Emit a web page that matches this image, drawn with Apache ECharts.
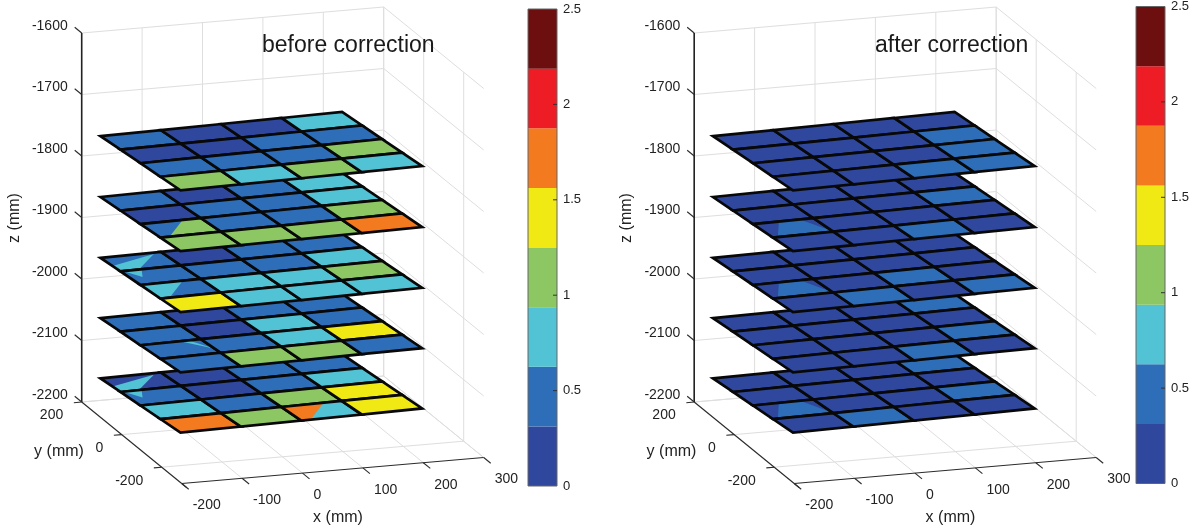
<!DOCTYPE html>
<html><head><meta charset="utf-8">
<style>html,body{margin:0;padding:0;background:#fff}#c{width:1203px;height:532px}</style>
<script src="https://cdn.jsdelivr.net/npm/echarts@6/dist/echarts.min.js"></script>
</head><body><div id="c"></div>
<script>
// ---------- data ----------
const xTicks = [-200,-100,0,100,200,300];
const yTicks = [200,0,-200];
const zTicks = [-1600,-1700,-1800,-1900,-2000,-2100,-2200];
const cellEdgesX = [-202,-102,-2,98,198];
const cellEdgesY = [100,0,-100,-200,-300];
const layerZ = [-2135,-2037,-1939,-1840,-1741];      // bottom layer first
const colorbarTicks = [0,0.5,1,1.5,2,2.5];
const bandLower = [0,0.3125,0.625,0.9375,1.25,1.5625,1.875,2.1875];
const bandColors = ['#2f479d','#2e6db7','#52c2d5','#8cc763','#f0e914','#f47a1f','#ee1c25','#6e0f0f'];
// rows run back to front, columns left to right
const before1 = [[.15,.15,.45,.45],[.45,.15,.45,.8],[.8,.45,1.1,1.4],[1.7,1.1,.8,1.4]];
const before2 = [[.4,.15,.45,.45],[.45,.15,.8,.45],[.45,.45,.8,1.4],[.45,1.1,1.1,.45]];
const before3 = [[.45,.15,.45,.45],[.45,.45,.45,.8],[.45,.8,.8,1.1],[1.4,.8,.8,.8]];
const before4 = [[.45,.15,.45,.8],[.15,.45,.45,.8],[1.1,.45,.45,1.1],[1.1,1.1,1.1,1.7]];
const before5 = [[.45,.15,.15,.8],[.15,.15,.45,.45],[.45,.45,.45,1.1],[1.1,.8,1.1,.8]];
const after1 = [[.15,.15,.15,.45],[.15,.15,.15,.15],[.15,.15,.15,.45],[.15,.45,.15,.15]];
const after2 = [[.15,.15,.15,.45],[.15,.15,.15,.15],[.15,.15,.15,.45],[.15,.15,.45,.15]];
const after3 = [[.15,.15,.15,.15],[.15,.15,.15,.15],[.15,.15,.45,.15],[.15,.45,.15,.45]];
const after4 = [[.15,.15,.15,.15],[.15,.15,.15,.45],[.15,.15,.15,.15],[.15,.15,.45,.15]];
const after5 = [[.15,.15,.15,.15],[.15,.15,.15,.45],[.15,.15,.15,.45],[.15,.15,.45,.45]];
// [layer, row, col, value, shape name]
const beforePatches = [[2,0,0,.8,'lowSweep'],[3,2,0,.45,'leftWedge'],[2,2,0,.8,'leftWedge'],[2,1,0,.8,'tinyLeft'],
  [1,2,0,.8,'streak'],[0,0,0,.8,'lowSweep'],[0,1,0,.8,'tinyLeft'],[0,3,2,1.7,'leftWedge']];
const afterPatches = [[3,2,0,.45,'upperFan'],[2,2,0,.45,'upperFan'],[0,2,0,.45,'upperFan']];
const patchShapes = {
  lowSweep:[[0,.6],[.85,.1],[.3,1],[0,1]],
  leftWedge:[[0,0],[.7,0],[.15,1],[0,1]],
  tinyLeft:[[.05,0],[.35,0],[.2,.5]],
  streak:[[.65,0],[.8,0],[1,.7]],
  upperFan:[[.08,1],[.4,.08],[.78,0],[1,1]]
};

// ---------- view projection of the 3-D box ----------
const view = {ox:81.7, oy:402, xx:.604, xy:-.052, yx:.2, yy:.163, zy:.615, tiltX:.0138, tiltY:.0447};
const xMin=-200,xMax=300,yMaxV=200,yMinV=-300,zTop=-1600,zBot=-2200;
function project(X,Y,Z){
  return [view.ox+(X-xMin)*view.xx+(yMaxV-Y)*view.yx,
          view.oy+(X-xMin)*view.xy+(yMaxV-Y)*view.yy-(Z-zBot)*view.zy];
}
function layerPoint(L,X,Y){
  const z=layerZ[L]+view.tiltY*(cellEdgesY[0]-Y)+view.tiltX*(X-cellEdgesX[0]);
  return project(X,Y,z);
}
const greyLine={stroke:'#dedede',lineWidth:1};
const darkLine={stroke:'#2b2b2b',lineWidth:1.1};
function segments(){
  const s=[];
  const g=(a,b)=>s.push([a,b,greyLine]);
  const d=(a,b,lw)=>s.push([a,b,lw?{stroke:'#222',lineWidth:lw}:darkLine]);
  xTicks.forEach(x=>{g([x,yMaxV,zBot],[x,yMinV,zBot]);g([x,yMaxV,zBot],[x,yMaxV,zTop]);});
  yTicks.forEach(y=>{g([xMin,y,zBot],[xMax,y,zBot]);g([xMax,y,zBot],[xMax,y,zTop]);});
  zTicks.forEach(z=>{g([xMin,yMaxV,z],[xMax,yMaxV,z]);g([xMax,yMaxV,z],[xMax,yMinV,z]);});
  d([xMin,yMaxV,zTop],[xMin,yMaxV,zBot],1.6);
  d([xMin,yMaxV,zBot],[xMin,yMinV,zBot]);
  d([xMin,yMinV,zBot],[xMax,yMinV,zBot]);
  zTicks.forEach(z=>d([xMin,yMaxV,z],[xMin,yMaxV+35,z]));
  xTicks.forEach(x=>d([x,yMinV,zBot],[x,yMinV-35,zBot]));
  yTicks.forEach(y=>d([xMin,y,zBot],[xMin-13,y,zBot]));
  d([xMin,yMinV,zBot],[xMin,yMinV-25,zBot]);
  return s;
}
function labels(){
  const t=[], font=14;
  zTicks.forEach(z=>{const p=project(xMin,yMaxV,z);t.push({x:p[0]-14,y:p[1]-7,text:String(z),align:'right',size:font});});
  xTicks.forEach(x=>{const p=project(x,yMinV,zBot);t.push({x:p[0]+11,y:p[1]+22,text:String(x),align:'left',size:font});});
  yTicks.forEach(y=>{const p=project(xMin,y,zBot);t.push({x:p[0]-18.5,y:p[1]+13.5,text:String(y),align:'right',size:font});});
  t.push({x:14.5,y:218,text:'z (mm)',align:'center',size:16,rot:Math.PI/2});
  t.push({x:59,y:452,text:'y (mm)',align:'center',size:16});
  t.push({x:338,y:518,text:'x (mm)',align:'center',size:16});
  return t;
}
function colorOf(v){
  let i=0; bandLower.forEach((b,k)=>{if(v>=b)i=k;}); return bandColors[i];
}
function cellList(layers,patches){
  const out=[];
  layers.forEach((m,L)=>m.forEach((row,r)=>row.forEach((v,c)=>{
    out.push({L,r,c,v,patch:patches.filter(p=>p[0]===L&&p[1]===r&&p[2]===c)});
  })));
  return out;
}
function panelSeries(idx,layers,patches){
  const segs=segments(), texts=labels(), cells=cellList(layers,patches);
  const common={type:'custom',xAxisIndex:idx,yAxisIndex:idx,silent:true,animation:false,clip:false};
  return [
    Object.assign({},common,{name:'box'+idx,z:1,data:segs.map((s,i)=>[i]),renderItem(p,api){
      const s=segs[p.dataIndex],a=api.coord(project(...s[0])),b=api.coord(project(...s[1]));
      return {type:'line',shape:{x1:a[0],y1:a[1],x2:b[0],y2:b[1]},style:Object.assign({fill:null},s[2])};
    }}),
    Object.assign({},common,{name:'cells'+idx,z:2,data:cells.map((s,i)=>[i]),renderItem(p,api){
      const k=cells[p.dataIndex];
      const x0=cellEdgesX[k.c],x1=cellEdgesX[k.c+1],y0=cellEdgesY[k.r],y1=cellEdgesY[k.r+1];
      const at=(u,v)=>api.coord(layerPoint(k.L,x0+(x1-x0)*u,y0+(y1-y0)*v));
      const corners=[at(0,0),at(1,0),at(1,1),at(0,1)];
      const kids=[{type:'polygon',shape:{points:corners},style:{fill:colorOf(k.v)}}];
      k.patch.forEach(q=>{
        kids.push({type:'polygon',shape:{points:patchShapes[q[4]].map(a=>at(a[0],a[1]))},style:{fill:colorOf(q[3])}});
      });
      kids.push({type:'polygon',shape:{points:corners},style:{fill:null,stroke:'#080808',lineWidth:2.7,lineJoin:'miter'}});
      return {type:'group',children:kids};
    }}),
    Object.assign({},common,{name:'labels'+idx,z:3,data:texts.map((s,i)=>[i]),renderItem(p,api){
      const t=texts[p.dataIndex],a=api.coord([t.x,t.y]);
      return {type:'text',x:a[0],y:a[1],rotation:t.rot||0,style:{text:t.text,textAlign:t.align,textVerticalAlign:'middle',
        font:t.size+'px "Liberation Sans",Arial,sans-serif',fill:'#222'}};
    }})
  ];
}
function colorbarSeries(idx){
  const n=bandLower.length;
  return {type:'custom',name:'colorbar'+idx,xAxisIndex:idx,yAxisIndex:idx,silent:true,animation:false,z:2,
    data:bandLower.concat(['frame'],colorbarTicks.slice(1,-1)).map((b,i)=>[i]),renderItem(p,api){
      const i=p.dataIndex;
      if(i===n){
        const a=api.coord([0,0]),b=api.coord([1,2.5]);
        return {type:'rect',shape:{x:a[0],y:b[1],width:b[0]-a[0],height:a[1]-b[1]},style:{fill:null,stroke:'#666',lineWidth:1}};
      }
      if(i>n){
        const a=api.coord([1,colorbarTicks[i-n]]);
        return {type:'line',shape:{x1:a[0]-4,y1:a[1],x2:a[0],y2:a[1]},style:{stroke:'#333',lineWidth:1}};
      }
      const lo=bandLower[i],hi=i+1<n?bandLower[i+1]:2.5;
      const a=api.coord([0,lo]),b=api.coord([1,hi]);
      return {type:'rect',shape:{x:a[0],y:b[1],width:b[0]-a[0],height:a[1]-b[1]},style:{fill:bandColors[i]}};
    }};
}
const hiddenX=w=>({type:'value',show:false,min:0,max:w});
const hiddenY={type:'value',show:false,inverse:true,min:0,max:532};
const barY=(g)=>({type:'value',gridIndex:g,position:'right',min:0,max:2.5,interval:.5,
  axisLine:{show:false},axisTick:{show:false},splitLine:{show:false},
  axisLabel:{margin:6,fontSize:13,color:'#222',padding:[3,0,0,0],fontFamily:'"Liberation Sans",Arial,sans-serif',
    formatter:v=>colorbarTicks.includes(v)?String(v):''}});
const titleStyle={fontSize:23,fontWeight:'normal',color:'#1a1a1a',fontFamily:'"Liberation Sans",Arial,sans-serif'};
const option={
  animation:false,backgroundColor:'#fff',
  title:[
    {text:'before correction',left:262,top:34,padding:0,textStyle:titleStyle},
    {text:'after correction',left:875,top:34,padding:0,textStyle:titleStyle}
  ],
  grid:[
    {left:0,top:0,width:600,height:532},
    {left:612.5,top:0,width:590.5,height:532},
    {left:528,top:9,width:29,height:477},
    {left:1136,top:6.5,width:29,height:477}
  ],
  xAxis:[
    Object.assign({gridIndex:0},hiddenX(600)),
    Object.assign({gridIndex:1},hiddenX(590.5)),
    Object.assign({gridIndex:2},hiddenX(1)),
    Object.assign({gridIndex:3},hiddenX(1))
  ],
  yAxis:[
    Object.assign({gridIndex:0},hiddenY),
    Object.assign({gridIndex:1},hiddenY),
    barY(2),barY(3)
  ],
  series:[
    ...panelSeries(0,[before1,before2,before3,before4,before5],beforePatches),
    ...panelSeries(1,[after1,after2,after3,after4,after5],afterPatches),
    colorbarSeries(2),colorbarSeries(3)
  ]
};
echarts.init(document.getElementById('c'),null,{renderer:'canvas'}).setOption(option);
</script></body></html>
